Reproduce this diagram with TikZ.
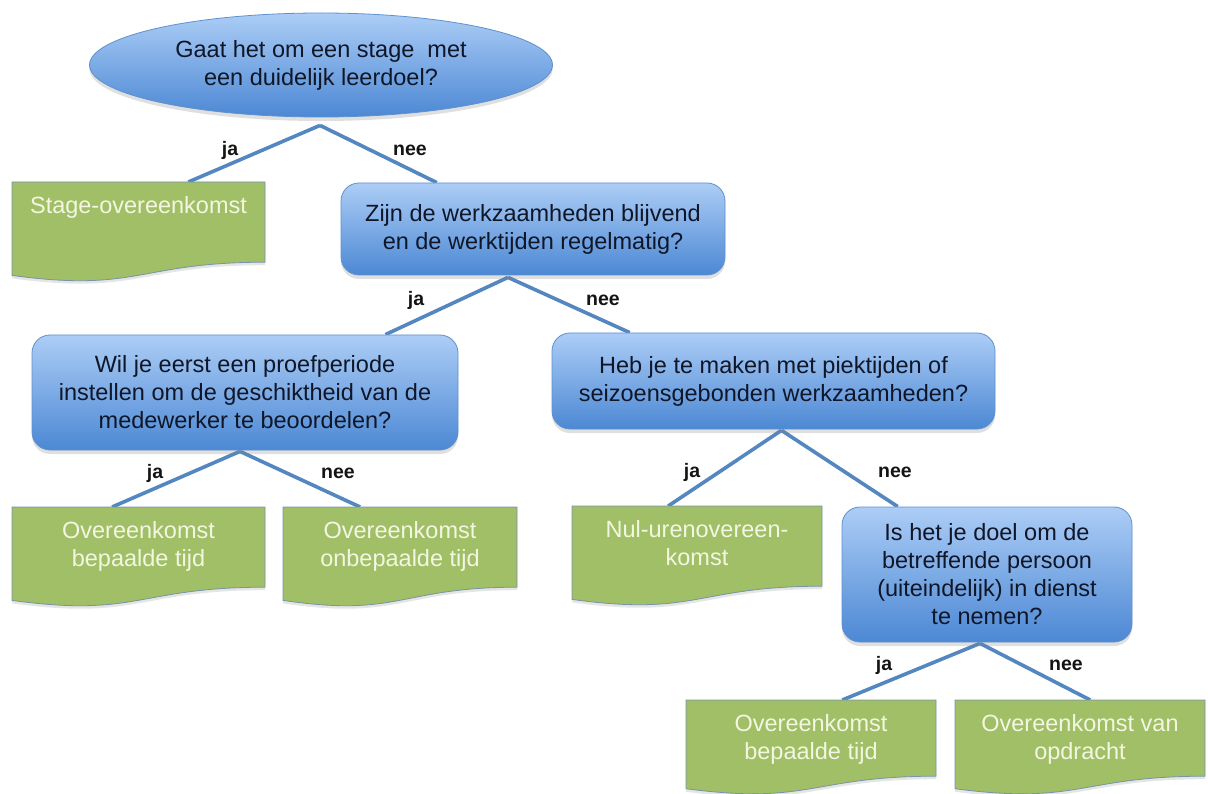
\documentclass[tikz,border=0pt]{standalone}
\usepackage{fontspec}
\setmainfont{Liberation Sans}
\usetikzlibrary{shapes.geometric,shadows,calc,backgrounds}
\definecolor{conn}{RGB}{84,134,192}
\definecolor{qtop}{RGB}{172,205,246}
\definecolor{qbot}{RGB}{76,136,212}
\definecolor{qborder}{RGB}{95,145,205}
\definecolor{gfill}{RGB}{160,191,102}
\definecolor{gborder}{RGB}{118,148,170}
\definecolor{gtext}{RGB}{243,247,226}
\definecolor{qtext}{RGB}{15,22,40}
\newcommand\docbox[6]{%
  \filldraw[docshape] (#2,#3) -- ({#2+#4},#3) -- ({#2+#4},{#3+0.802*#5})
    .. controls ({#2+0.5*#4},{#3+0.802*#5}) and ({#2+0.5*#4},{#3+1.1075*#5}) .. (#2,{#3+0.934*#5}) -- cycle;
  \node[docnode, minimum width=#4pt, minimum height=#5pt, anchor=north west] (#1) at (#2,#3) {};
  \node[doctext, anchor=north] (#1t) at ({#2+0.5*#4},{#3+14}) {#6};
}
\begin{document}
\begin{tikzpicture}[x=1pt,y=-1pt,
  qbase/.style={draw=qborder, line width=0.8pt, top color=qtop, bottom color=qbot,
    align=center, text=qtext, font=\fontsize{23.5}{28}\selectfont, inner sep=0pt,
    drop shadow={opacity=0.25, shadow xshift=0pt, shadow yshift=-4pt}},
  qbox/.style={qbase, rectangle, rounded corners=18pt},
  qell/.style={qbase, ellipse},
  docshape/.style={draw=gborder, fill=gfill, line width=0.8pt,
    drop shadow={opacity=0.2, shadow xshift=0pt, shadow yshift=-3pt}},
  docnode/.style={rectangle, inner sep=0pt, draw=none},
  doctext/.style={align=center, text=gtext, font=\fontsize{23.5}{28}\selectfont, inner sep=0pt},
  conn/.style={draw=conn, line width=3.6pt},
  lab/.style={font=\bfseries\fontsize{19.5}{22}\selectfont, text=black!92, inner sep=0pt}
]
\useasboundingbox (0,0) rectangle (1208,794);

% question nodes
\node[qell, minimum width=463pt, minimum height=104pt] (e0) at (321,65)
  {Gaat het om een stage~ met\\een duidelijk leerdoel?};
\node[qbox, minimum width=384pt, minimum height=92pt] (q1) at (533,229)
  {Zijn de werkzaamheden blijvend\\en de werktijden regelmatig?};
\node[qbox, minimum width=426pt, minimum height=115pt] (q2) at (245,392.5)
  {Wil je eerst een proefperiode\\instellen om de geschiktheid van de\\medewerker te beoordelen?};
\node[qbox, minimum width=443pt, minimum height=96pt] (q3) at (773.5,381)
  {Heb je te maken met piektijden of\\seizoensgebonden werkzaamheden?};
\node[qbox, minimum width=290pt, minimum height=135pt] (q4) at (987,574.5)
  {Is het je doel om de\\betreffende persoon\\(uiteindelijk) in dienst\\te nemen?};

% outcome documents
\docbox{s1}{12}{182}{253}{100}{Stage-overeenkomst}
\docbox{d2}{12}{507}{253}{100}{Overeenkomst\\bepaalde tijd}
\docbox{d3}{283}{507}{234}{100}{Overeenkomst\\onbepaalde tijd}
\docbox{d4}{572}{506}{250}{100}{Nul-urenovereen-\\komst}
\docbox{d5}{686}{700}{250}{95}{Overeenkomst\\bepaalde tijd}
\docbox{d6}{955}{700}{250}{95}{Overeenkomst van\\opdracht}

% connectors
\begin{pgfonlayer}{background}
\fill[white] (0,0) rectangle (1208,794);
\coordinate (a0) at ($(e0.south)+(-1,8)$);
\coordinate (a1) at ($(q1.south)+(-25,2)$);
\coordinate (a2) at ($(q2.south)+(-5,1)$);
\coordinate (a3) at ($(q3.south)+(8,1)$);
\coordinate (a4) at ($(q4.south)+(-7,1)$);
\draw[conn] (a0) -- ($(s1.north west)!0.696!(s1.north east)$);
\draw[conn] (a0) -- ($(q1.north west)!0.25!(q1.north east)$);
\draw[conn] (a1) -- ($(q2.north west)!0.829!(q2.north east)$);
\draw[conn] (a1) -- ($(q3.north west)!0.176!(q3.north east)$);
\draw[conn] (a2) -- ($(d2.north west)!0.395!(d2.north east)$);
\draw[conn] (a2) -- ($(d3.north west)!0.329!(d3.north east)$);
\draw[conn] (a3) -- ($(d4.north west)!0.384!(d4.north east)$);
\draw[conn] (a3) -- ($(q4.north west)!0.193!(q4.north east)$);
\draw[conn] (a4) -- ($(d5.north west)!0.624!(d5.north east)$);
\draw[conn] (a4) -- ($(d6.north west)!0.54!(d6.north east)$);
\end{pgfonlayer}

% labels
\node[lab] (l0j) at (230,150) {ja};
\node[lab] (l0n) at (410,150) {nee};
\node[lab] (l1j) at (416,300) {ja};
\node[lab] (l1n) at (603,300) {nee};
\node[lab] (l2j) at (155,473) {ja};
\node[lab] (l2n) at (338,473) {nee};
\node[lab] (l3j) at (692,472) {ja};
\node[lab] (l3n) at (895,472) {nee};
\node[lab] (l4j) at (884,665) {ja};
\node[lab] (l4n) at (1066,665) {nee};
\end{tikzpicture}
\end{document}
